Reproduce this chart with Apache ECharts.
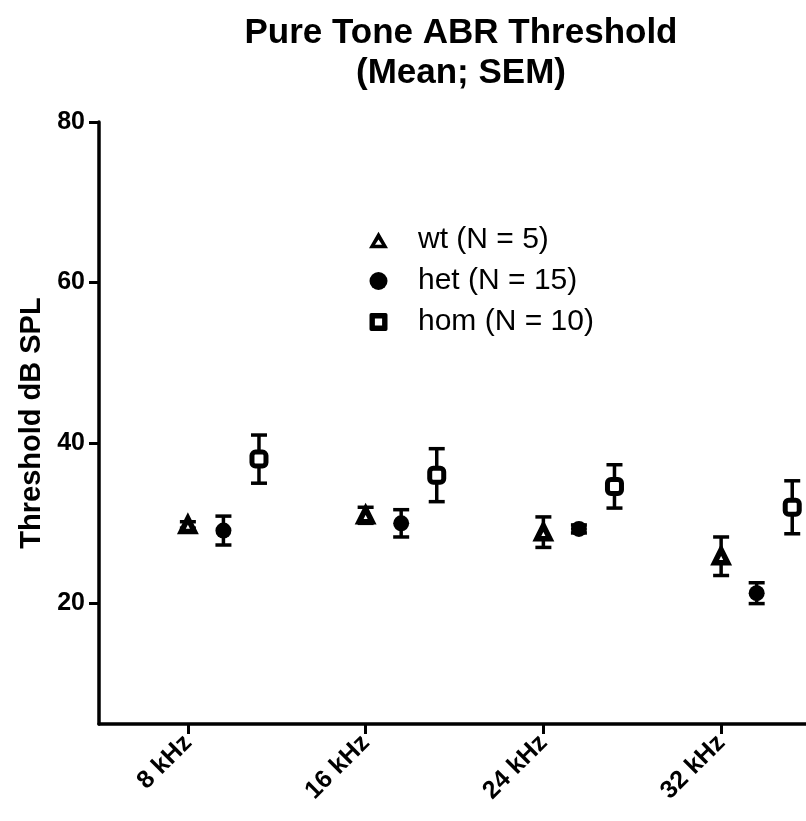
<!DOCTYPE html>
<html>
<head>
<meta charset="utf-8">
<script src="https://cdn.jsdelivr.net/npm/echarts@6/dist/echarts.min.js"></script>
<style>
  html, body { margin: 0; padding: 0; background: #fff; }
  #chart { width: 806px; height: 821px; }
</style>
</head>
<body>
<div id="chart"></div>
<script>
// frequencies on the x axis
const categories = ['8 kHz', '16 kHz', '24 kHz', '32 kHz']
const yTicks = [20, 40, 60, 80]

// mean threshold and SEM per group
const wtMean = [29.8, 31.0, 28.9, 25.9]
const wtSem = [0.4, 1.0, 1.9, 2.4]
const hetMean = [29.1, 30.0, 29.3, 21.3]
const hetSem = [1.8, 1.7, 0.5, 1.3]
const homMean = [38.0, 36.0, 34.6, 32.0]
const homSem = [3.0, 3.3, 2.7, 3.3]

// dodge of each group inside a frequency band
const groupOffsets = [0, 0.2, 0.4]

const font = 'Liberation Sans, Arial, sans-serif'

// legend icons (thick outline with a small hole)
const triIcon = 'path://M0,-11L11,8L-11,8Z M0,-2L-4,4L4,4Z'
const sqIcon = 'path://M-8,-10L8,-10Q10,-10 10,-8L10,8Q10,10 8,10L-8,10Q-10,10 -10,8L-10,-8Q-10,-10 -8,-10Z M-4,-4L-4,4L4,4L4,-4Z'

function points(mean, k) {
  return mean.map((v, i) => [i + groupOffsets[k], v])
}
function bars(mean, sem, k) {
  return mean.map((v, i) => [i + groupOffsets[k], v - sem[i], v + sem[i]])
}

function renderErr(params, api) {
  const x = api.value(0)
  const lo = api.coord([x, api.value(1)])
  const hi = api.coord([x, api.value(2)])
  const w = 8
  const style = { stroke: '#000', lineWidth: 3.5 }
  return {
    type: 'group',
    children: [
      { type: 'line', shape: { x1: hi[0], y1: hi[1], x2: lo[0], y2: lo[1] }, style: style },
      { type: 'line', shape: { x1: hi[0] - w, y1: hi[1], x2: hi[0] + w, y2: hi[1] }, style: style },
      { type: 'line', shape: { x1: lo[0] - w, y1: lo[1], x2: lo[0] + w, y2: lo[1] }, style: style }
    ]
  }
}

const chart = echarts.init(document.getElementById('chart'))

chart.setOption({
  backgroundColor: '#fff',
  animation: false,
  title: {
    text: 'Pure Tone ABR Threshold\n(Mean; SEM)',
    left: 456,
    top: 8,
    textAlign: 'center',
    textStyle: {
      fontFamily: font,
      fontSize: 35,
      fontWeight: 'bold',
      color: '#000',
      lineHeight: 40
    }
  },
  legend: {
    orient: 'vertical',
    left: 364,
    top: 220,
    itemGap: 11,
    itemWidth: 19,
    itemHeight: 18,
    textStyle: { fontFamily: font, fontSize: 30, color: '#000', padding: [0, 0, 0, 25] },
    data: [
      { name: 'wt (N = 5)', icon: triIcon, itemStyle: { color: '#000', borderWidth: 0 } },
      { name: 'het (N = 15)', icon: 'circle', itemStyle: { color: '#000', borderWidth: 0 } },
      { name: 'hom (N = 10)', icon: sqIcon, itemStyle: { color: '#000', borderWidth: 0 } }
    ]
  },
  grid: {
    left: 99,
    right: -4,
    top: 122,
    bottom: 97,
    outerBoundsMode: 'none'
  },
  xAxis: {
    type: 'value',
    min: -0.5,
    max: 3.5,
    splitLine: { show: false },
    axisLine: { onZero: false, lineStyle: { color: '#000', width: 3.5 } },
    axisTick: { customValues: [0, 1, 2, 3], length: 10, lineStyle: { color: '#000', width: 3 } },
    axisLabel: {
      customValues: [0, 1, 2, 3],
      formatter: v => categories[Math.round(v)],
      rotate: 45,
      margin: 15,
      fontFamily: font,
      fontSize: 25,
      fontWeight: 'bold',
      color: '#000'
    }
  },
  yAxis: {
    type: 'value',
    min: 5,
    max: 80,
    name: 'Threshold dB SPL',
    nameLocation: 'middle',
    nameGap: 53,
    nameTextStyle: { fontFamily: font, fontSize: 29, fontWeight: 'bold', color: '#000' },
    splitLine: { show: false },
    axisLine: { show: true, onZero: false, lineStyle: { color: '#000', width: 3.5 } },
    axisTick: { show: true, customValues: yTicks, length: 10, lineStyle: { color: '#000', width: 3 } },
    axisLabel: {
      customValues: yTicks,
      margin: 14,
      fontFamily: font,
      fontSize: 25,
      fontWeight: 'bold',
      color: '#000'
    }
  },
  series: [
    { type: 'custom', renderItem: renderErr, data: bars(wtMean, wtSem, 0), z: 1, silent: true },
    { type: 'custom', renderItem: renderErr, data: bars(hetMean, hetSem, 1), z: 1, silent: true },
    { type: 'custom', renderItem: renderErr, data: bars(homMean, homSem, 2), z: 1, silent: true },
    {
      name: 'wt (N = 5)',
      type: 'scatter',
      symbol: 'triangle',
      symbolSize: 13,
      itemStyle: { color: '#fff', borderColor: '#000', borderWidth: 5.5, opacity: 1 },
      data: points(wtMean, 0),
      z: 3
    },
    {
      name: 'het (N = 15)',
      type: 'scatter',
      symbol: 'circle',
      symbolSize: 16,
      itemStyle: { color: '#000', opacity: 1 },
      data: points(hetMean, 1),
      z: 3
    },
    {
      name: 'hom (N = 10)',
      type: 'scatter',
      symbol: 'roundRect',
      symbolSize: 14,
      itemStyle: { color: '#fff', borderColor: '#000', borderWidth: 5, opacity: 1 },
      data: points(homMean, 2),
      z: 3
    }
  ]
})
</script>
</body>
</html>
